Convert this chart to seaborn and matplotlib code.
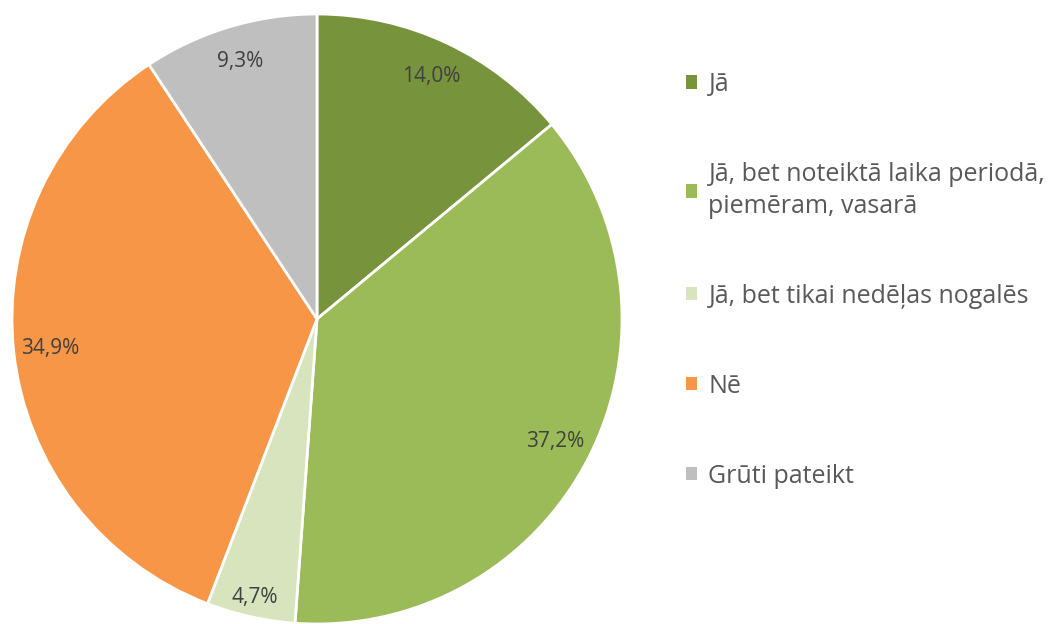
import seaborn as sns
import matplotlib.pyplot as plt
from matplotlib.patches import Patch
import numpy as np

answers = ["Jā", "Jā, bet noteiktā laika periodā,\npiemēram, vasarā",
           "Jā, bet tikai nedēļas nogalēs", "Nē", "Grūti pateikt"]
shares = [14.0, 37.2, 4.7, 34.9, 9.3]
colors = ["#77933C", "#9BBB59", "#D7E4BD", "#F79646", "#BFBFBF"]

sns.set_theme(style="white")
plt.rcParams["font.family"] = ["Open Sans", "DejaVu Sans"]

fig = plt.figure(figsize=(10.64, 6.24), dpi=100)
ax = fig.add_axes([12 / 1064, 0, 610 / 1064, 610 / 624])

wedges, texts, autotexts = ax.pie(
    shares, colors=sns.color_palette(colors), startangle=90, counterclock=False,
    radius=1, pctdistance=0.88,
    autopct=lambda p: f"{p:.1f}%".replace(".", ","),
    wedgeprops=dict(edgecolor="white", linewidth=2),
    textprops=dict(color="#404040", fontsize=15),
)
# the small slice label sits further out
w = wedges[2]
mid = np.deg2rad((w.theta1 + w.theta2) / 2)
autotexts[2].set_position((0.935 * np.cos(mid), 0.935 * np.sin(mid)))

ax.set_xlim(-1, 1)
ax.set_ylim(-1, 1)
ax.axis("off")

handles = [Patch(facecolor=c, edgecolor="none") for c in colors]
leg = fig.legend(handles, answers, loc="upper left",
                 bbox_to_anchor=(686 / 1064, 1 - 72 / 624),
                 frameon=False, borderpad=0, borderaxespad=0, fontsize=18,
                 handlelength=0.45, handleheight=0.45, handletextpad=0.45,
                 labelspacing=2.6, labelcolor="#595959")
for t in leg.get_texts():
    t.set_linespacing(1.35)

fig.savefig("out.png", dpi=100)
